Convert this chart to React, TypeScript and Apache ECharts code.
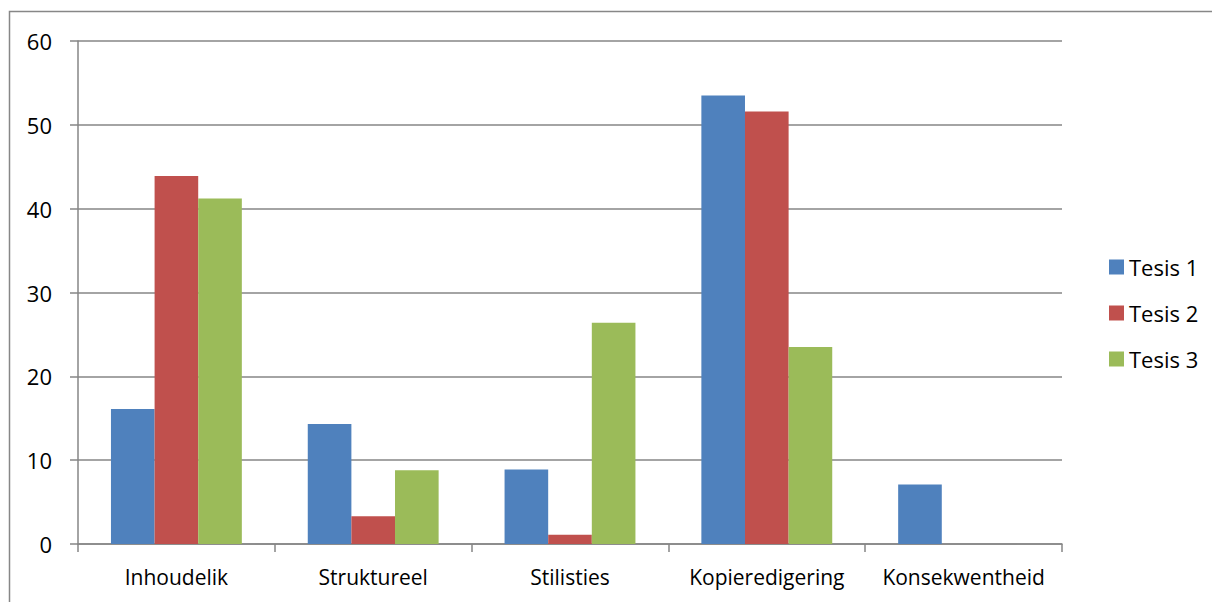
import React, { useEffect, useRef } from "react";
import * as echarts from "echarts";

const categories = ["Inhoudelik", "Struktureel", "Stilisties", "Kopieredigering", "Konsekwentheid"];
const seriesNames = ["Tesis 1", "Tesis 2", "Tesis 3"];
const tesis1 = [16.1, 14.3, 8.9, 53.5, 7.1];
const tesis2 = [43.9, 3.3, 1.1, 51.6, 0];
const tesis3 = [41.2, 8.8, 26.4, 23.5, 0];
const colors = ["#4F81BD", "#C0504D", "#9BBB59"];

export default function App() {
  const ref = useRef<HTMLDivElement>(null);
  useEffect(() => {
    document.body.style.margin = "0";
    const chart = echarts.init(ref.current!, undefined, { renderer: "svg" });
    const font = "Open Sans, Noto Sans, sans-serif";
    const data = [tesis1, tesis2, tesis3];
    chart.setOption({
      animation: false,
      textStyle: { fontFamily: font },
      grid: { left: 78, top: 41, width: 984, height: 503, containLabel: false },
      graphic: [
        {
          type: "rect",
          shape: { x: 9.5, y: 11.5, width: 1400, height: 800 },
          style: { fill: "none", stroke: "#878787", lineWidth: 1.5 },
          silent: true,
        },
      ],
      legend: {
        orient: "vertical",
        left: 1104,
        top: 251,
        itemWidth: 15,
        itemHeight: 15,
        itemGap: 24,
        icon: "rect",
        textStyle: { fontSize: 22, color: "#000", fontFamily: font },
        data: seriesNames,
      },
      xAxis: {
        type: "category",
        data: categories,
        axisLine: { lineStyle: { color: "#868686", width: 1.5 } },
        axisTick: { show: true, length: 8, interval: 0, lineStyle: { color: "#868686", width: 1.5 } },
        axisLabel: { fontSize: 21, color: "#000", margin: 22, interval: 0, hideOverlap: false, fontFamily: font },
      },
      yAxis: {
        type: "value",
        min: 0,
        max: 60,
        interval: 10,
        axisLine: { show: true, lineStyle: { color: "#868686", width: 1.5 } },
        axisTick: { show: true, length: 8, lineStyle: { color: "#868686", width: 1.5 } },
        axisLabel: { fontSize: 22, color: "#000", margin: 26, fontFamily: font },
        splitLine: { lineStyle: { color: "#868686", width: 1.5 } },
      },
      series: seriesNames.map((name, i) => ({
        name,
        type: "bar",
        data: data[i],
        barGap: "0%",
        barCategoryGap: "33.5%",
        itemStyle: { color: colors[i] },
      })),
    });
    return () => chart.dispose();
  }, []);
  return <div ref={ref} style={{ width: 1212, height: 602 }} />;
}
